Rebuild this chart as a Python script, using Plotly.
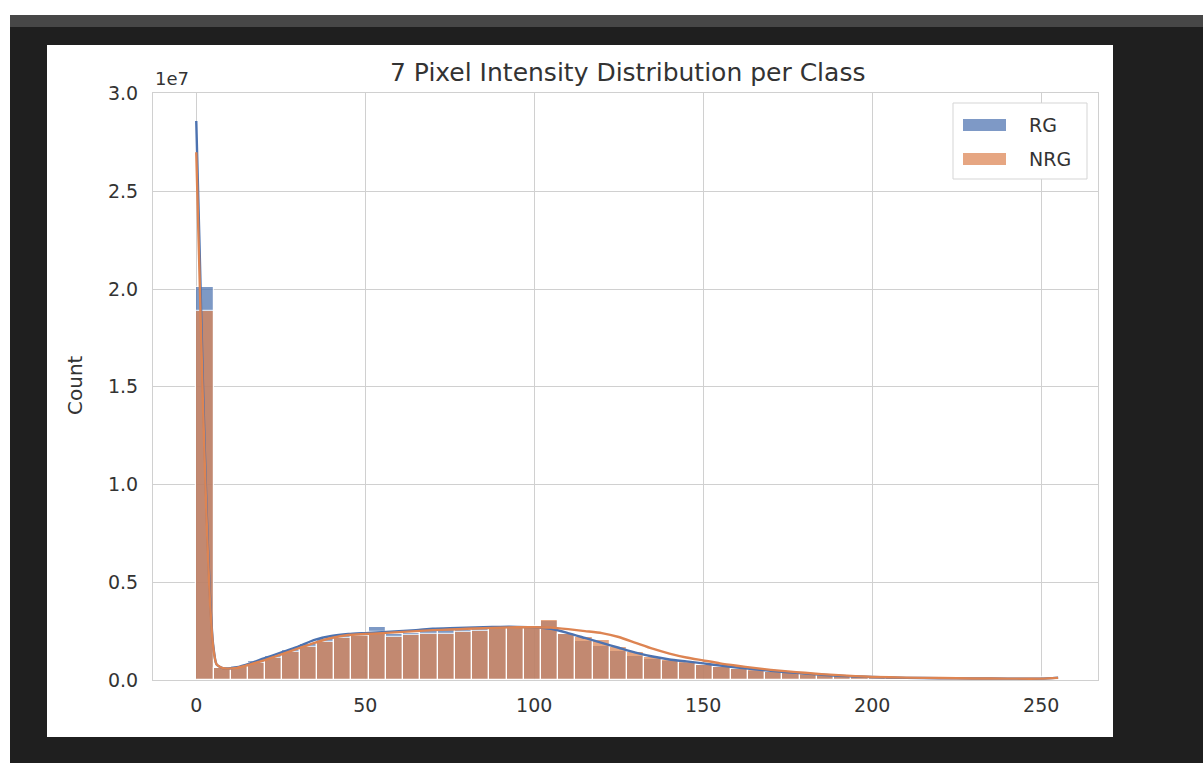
import plotly.graph_objects as go

# ---------------- data (counts in units of 1e7) ----------------
bin_width = 5.1
bin_left = [0, 5.1, 10.2, 15.3, 20.4, 25.5, 30.6, 35.7, 40.8, 45.9,
            51, 56.1, 61.2, 66.3, 71.4, 76.5, 81.6, 86.7, 91.8, 96.9,
            102, 107.1, 112.2, 117.3, 122.4, 127.5, 132.6, 137.7, 142.8, 147.9,
            153, 158.1, 163.2, 168.3, 173.4, 178.5, 183.6, 188.7, 193.8, 198.9,
            204, 209.1, 214.2, 219.3, 224.4, 229.5, 234.6, 239.7, 244.8, 249.9]

rg_counts = [2.01, 0.06, 0.07, 0.095, 0.125, 0.155, 0.185, 0.21, 0.23, 0.235,
             0.27, 0.235, 0.24, 0.26, 0.26, 0.255, 0.26, 0.27, 0.27, 0.275,
             0.30, 0.235, 0.20, 0.175, 0.15, 0.125, 0.11, 0.098, 0.087, 0.075,
             0.065, 0.055, 0.047, 0.04, 0.034, 0.028, 0.023, 0.019, 0.016, 0.013,
             0.011, 0.01, 0.009, 0.008, 0.007, 0.006, 0.006, 0.005, 0.005, 0.013]

nrg_counts = [1.89, 0.06, 0.065, 0.085, 0.115, 0.145, 0.17, 0.195, 0.215, 0.225,
              0.245, 0.22, 0.23, 0.235, 0.235, 0.245, 0.25, 0.265, 0.27, 0.27,
              0.305, 0.235, 0.22, 0.205, 0.17, 0.145, 0.12, 0.10, 0.09, 0.078,
              0.068, 0.058, 0.05, 0.043, 0.036, 0.03, 0.025, 0.02, 0.017, 0.014,
              0.012, 0.01, 0.009, 0.008, 0.007, 0.006, 0.006, 0.005, 0.005, 0.012]

kde_x = [0, 1, 2, 3, 4, 5, 6, 8, 12, 16, 20, 25, 30, 35, 40, 45, 50, 55, 60, 65,
         70, 75, 80, 85, 90, 95, 100, 105, 110, 115, 120, 125, 130, 135, 140, 145,
         150, 155, 160, 165, 170, 175, 180, 185, 190, 195, 200, 210, 220, 230, 240,
         250, 255]

rg_kde = [2.86, 2.2, 1.5, 0.9, 0.45, 0.18, 0.08, 0.06, 0.065, 0.085, 0.11, 0.14,
          0.17, 0.205, 0.225, 0.235, 0.24, 0.245, 0.25, 0.255, 0.262, 0.265, 0.267,
          0.27, 0.272, 0.272, 0.27, 0.262, 0.24, 0.215, 0.19, 0.165, 0.14, 0.12,
          0.105, 0.095, 0.085, 0.074, 0.064, 0.055, 0.047, 0.04, 0.033, 0.027,
          0.022, 0.018, 0.015, 0.011, 0.009, 0.008, 0.007, 0.007, 0.012]

nrg_kde = [2.7, 2.05, 1.4, 0.85, 0.42, 0.17, 0.08, 0.06, 0.062, 0.08, 0.1, 0.13,
           0.16, 0.19, 0.215, 0.23, 0.235, 0.24, 0.245, 0.25, 0.255, 0.258, 0.262,
           0.265, 0.268, 0.27, 0.27, 0.268, 0.26, 0.25, 0.24, 0.22, 0.19, 0.16,
           0.135, 0.115, 0.1, 0.085, 0.073, 0.062, 0.052, 0.044, 0.037, 0.03,
           0.025, 0.02, 0.016, 0.012, 0.01, 0.008, 0.007, 0.007, 0.011]

x_ticks = [0, 50, 100, 150, 200, 250]
y_ticks = [0.0, 0.5, 1.0, 1.5, 2.0, 2.5, 3.0]
classes = ["RG", "NRG"]
colors = {"RG": "#4c72b0", "NRG": "#dd8452"}
alpha = 0.72

# ---------------- geometry (pixels) ----------------
W_FIG, H_FIG = 1203, 763
L, T, R, B = 153, 93, 1098, 680
PW, PH = R - L, B - T


def xp(px):
    return (px - L) / PW


def yp(py):
    return (B - py) / PH


FONT = "DejaVu Sans"
TXT = "#333333"

fig = go.Figure()

for name, vals in zip(classes, [rg_counts, nrg_counts]):
    fig.add_trace(go.Bar(
        x=bin_left, y=vals, width=bin_width, offset=0, name=name,
        marker=dict(color=colors[name], line=dict(color="white", width=1.2)),
        opacity=alpha, showlegend=False, hoverinfo="skip"))

for name, vals in zip(classes, [rg_kde, nrg_kde]):
    fig.add_trace(go.Scatter(
        x=kde_x, y=vals, mode="lines", name=name + " kde",
        line=dict(color=colors[name], width=2.4, shape="spline", smoothing=0.6),
        showlegend=False, hoverinfo="skip"))

shapes = [
    # screenshot surroundings
    dict(type="rect", xref="paper", yref="paper", x0=xp(-5), x1=xp(1210),
         y0=yp(15), y1=yp(-5), fillcolor="white", line=dict(width=0), layer="below"),
    dict(type="rect", xref="paper", yref="paper", x0=xp(-5), x1=xp(10),
         y0=yp(770), y1=yp(-5), fillcolor="white", line=dict(width=0), layer="below"),
    dict(type="rect", xref="paper", yref="paper", x0=xp(10), x1=xp(1210),
         y0=yp(27), y1=yp(15), fillcolor="#474747", line=dict(width=0), layer="below"),
    dict(type="rect", xref="paper", yref="paper", x0=xp(47), x1=xp(1113),
         y0=yp(737), y1=yp(45), fillcolor="white", line=dict(width=0), layer="below"),
    # legend box
    dict(type="rect", xref="paper", yref="paper", x0=xp(953), x1=xp(1087),
         y0=yp(179), y1=yp(103), fillcolor="white", line=dict(color="#d5d5d5", width=1)),
]

annotations = [
    dict(text="7 Pixel Intensity Distribution per Class", xref="paper", yref="paper",
         x=xp(627), y=yp(73), xanchor="center", yanchor="middle", showarrow=False,
         font=dict(family=FONT, size=25, color=TXT)),
    dict(text="1e7", xref="paper", yref="paper", x=xp(153), y=yp(78),
         xanchor="left", yanchor="middle", showarrow=False,
         font=dict(family=FONT, size=18, color=TXT)),
    dict(text="Count", xref="paper", yref="paper", x=xp(75), y=yp(385),
         xanchor="center", yanchor="middle", textangle=-90, showarrow=False,
         font=dict(family=FONT, size=20, color=TXT)),
]

# custom legend entries
legend_rows = [(125, "RG"), (159, "NRG")]
for cy, name in legend_rows:
    shapes.append(dict(type="rect", xref="paper", yref="paper", x0=xp(963), x1=xp(1006),
                       y0=yp(cy + 6), y1=yp(cy - 6), fillcolor=colors[name],
                       opacity=alpha, line=dict(width=0)))
    annotations.append(dict(text=name, xref="paper", yref="paper", x=xp(1027), y=yp(cy),
                            xanchor="left", yanchor="middle", showarrow=False,
                            font=dict(family=FONT, size=19, color=TXT)))

fig.update_layout(
    width=W_FIG, height=H_FIG,
    margin=dict(l=L, r=W_FIG - R, t=T, b=H_FIG - B, pad=0),
    paper_bgcolor="#1f1f1f", plot_bgcolor="white",
    barmode="overlay", bargap=0,
    shapes=shapes, annotations=annotations,
    font=dict(family=FONT, color=TXT),
)

fig.update_xaxes(range=[-12.8, 266.8], tickvals=x_ticks, ticktext=[str(v) for v in x_ticks],
                 showgrid=True, gridcolor="#d0d0d0", gridwidth=1, zeroline=False,
                 showline=True, linecolor="#d0d0d0", linewidth=1, mirror=True,
                 ticks="", ticklabelstandoff=8, tickfont=dict(family=FONT, size=19, color=TXT))
fig.update_yaxes(range=[0, 3.003], tickvals=y_ticks, ticktext=[f"{v:.1f}" for v in y_ticks],
                 showgrid=True, gridcolor="#d0d0d0", gridwidth=1, zeroline=False,
                 showline=True, linecolor="#d0d0d0", linewidth=1, mirror=True,
                 ticks="", ticklabelstandoff=10, tickfont=dict(family=FONT, size=19, color=TXT))

fig.write_html("out.html")
